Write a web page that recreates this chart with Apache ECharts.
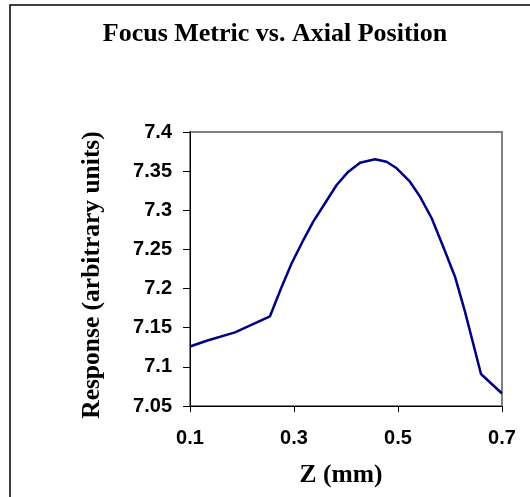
<!DOCTYPE html>
<html>
<head>
<meta charset="utf-8">
<script src="https://cdn.jsdelivr.net/npm/echarts@6/dist/echarts.min.js"></script>
<style>html,body{margin:0;padding:0;background:#fff;}#c{width:530px;height:497px;}</style>
</head>
<body>
<div id="c"></div>
<script>
const zValues = [0.1, 0.132, 0.1865, 0.2538, 0.2750, 0.2955, 0.318, 0.337, 0.3596, 0.382, 0.4045, 0.427, 0.4558, 0.478, 0.4975, 0.523, 0.5423, 0.5648, 0.587, 0.6096, 0.6288, 0.6596, 0.7];
const responseValues = [7.126, 7.1334, 7.1441, 7.1646, 7.2000, 7.2323, 7.262, 7.2855, 7.309, 7.3323, 7.3493, 7.3608, 7.3651, 7.362, 7.3536, 7.3365, 7.3174, 7.2898, 7.2535, 7.2152, 7.1705, 7.0909, 7.066];
const xTicks = [0.1, 0.3, 0.5, 0.7];
const yTicks = [7.05, 7.1, 7.15, 7.2, 7.25, 7.3, 7.35, 7.4];
const titleText = 'Focus Metric vs. Axial Position';
const xName = 'Z (mm)';
const yName = 'Response (arbitrary units)';

const chart = echarts.init(document.getElementById('c'), null, {renderer: 'canvas'});
const fmt = v => String(parseFloat(Number(v).toFixed(2)));
const labelStyle = {fontFamily: 'Liberation Sans, Arial', fontWeight: 'bold', fontSize: 20, color: '#000'};
const serif = 'Liberation Serif, Times New Roman';
chart.setOption({
  animation: false,
  backgroundColor: '#fff',
  graphic: [
    {type: 'rect', shape: {x: 10, y: 5, width: 700, height: 700}, style: {fill: 'none', stroke: '#000', lineWidth: 1.5}, silent: true},
    {type: 'text', x: 275, y: 34, style: {text: titleText, fontFamily: serif, fontWeight: 'bold', fontSize: 26, fill: '#000', align: 'center', verticalAlign: 'middle'}},
    {type: 'text', x: 341, y: 475, style: {text: xName, fontFamily: serif, fontWeight: 'bold', fontSize: 25.5, fill: '#000', align: 'center', verticalAlign: 'middle'}},
    {type: 'text', x: 92, y: 275, rotation: Math.PI / 2, style: {text: yName, fontFamily: serif, fontWeight: 'bold', fontSize: 25.5, fill: '#000', align: 'center', verticalAlign: 'middle'}}
  ],
  grid: {left: 190, right: 28, top: 132, bottom: 91, show: true, borderColor: '#808080', borderWidth: 2, backgroundColor: 'transparent'},
  xAxis: {
    type: 'value', min: 0.1, max: 0.7,
    axisLine: {show: true, onZero: false, lineStyle: {color: '#000', width: 1}},
    axisTick: {show: true, length: 6, customValues: xTicks, lineStyle: {color: '#000'}},
    axisLabel: Object.assign({customValues: xTicks, margin: 22, formatter: fmt}, labelStyle),
    splitLine: {show: false}
  },
  yAxis: {
    type: 'value', min: 7.05, max: 7.4,
    axisLine: {show: true, onZero: false, lineStyle: {color: '#000', width: 1}},
    axisTick: {show: true, length: 7, customValues: yTicks, lineStyle: {color: '#000'}},
    axisLabel: Object.assign({customValues: yTicks, margin: 18, formatter: fmt}, labelStyle),
    splitLine: {show: false}
  },
  series: [{
    type: 'line',
    data: zValues.map((z, i) => [z, responseValues[i]]),
    showSymbol: false,
    smooth: false,
    lineStyle: {color: '#000080', width: 2.5},
    clip: false
  }]
});
</script>
</body>
</html>
